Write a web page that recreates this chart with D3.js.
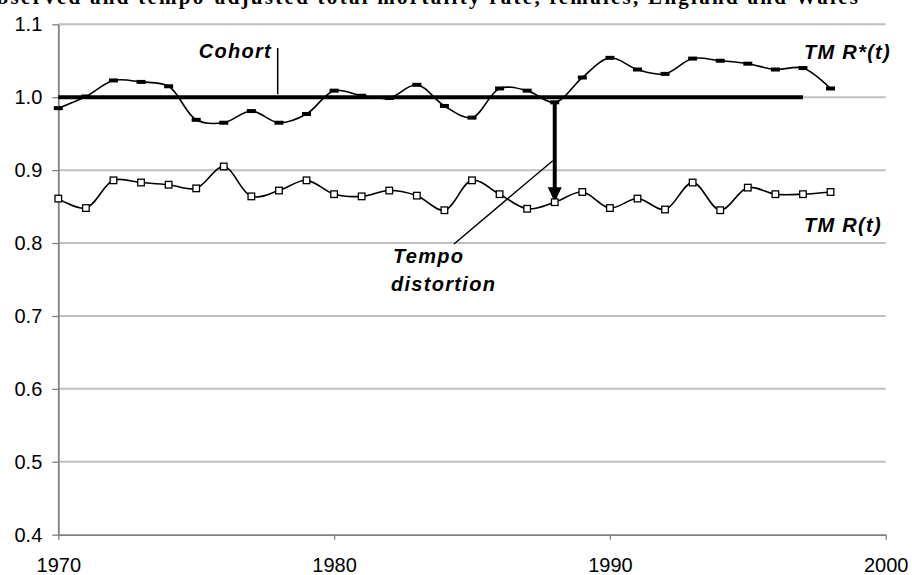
<!DOCTYPE html>
<html>
<head>
<meta charset="utf-8">
<script src="https://cdn.jsdelivr.net/npm/d3@7"></script>
<style>
  body { margin: 0; background: #fff; }
  text { font-family: "Liberation Sans", Arial, sans-serif; }
  .lab { font-weight: bold; font-style: italic; font-size: 20px; letter-spacing: 1.3px; }
</style>
</head>
<body>
<svg id="chart"></svg>
<script>
var years = d3.range(1970, 1999);
var tmrStar = [0.985, 1.001, 1.023, 1.021, 1.015, 0.969, 0.965, 0.981, 0.965, 0.977,
               1.009, 1.002, 0.999, 1.017, 0.988, 0.972, 1.012, 1.009, 0.993, 1.027,
               1.054, 1.038, 1.032, 1.053, 1.050, 1.046, 1.038, 1.040, 1.012];
var tmr = [0.861, 0.848, 0.886, 0.883, 0.880, 0.875, 0.905, 0.864, 0.872, 0.886,
           0.867, 0.864, 0.872, 0.865, 0.845, 0.886, 0.867, 0.847, 0.856, 0.870,
           0.848, 0.861, 0.846, 0.883, 0.845, 0.876, 0.867, 0.867, 0.870];
var cohortLevel = 1.0, cohortYears = [1970, 1997];
var arrowYear = 1988;
var yTicks = [0.4, 0.5, 0.6, 0.7, 0.8, 0.9, 1.0, 1.1];
var xTicks = [1970, 1980, 1990, 2000];
var title = "Observed and tempo-adjusted total mortality rate, females, England and Wales";

var width = 912, height = 575;
var svg = d3.select("#chart").attr("width", width).attr("height", height);

var x = d3.scaleLinear().domain([1970, 2000]).range([58.3, 885.7]);
var y = d3.scaleLinear().domain([0.4, 1.1]).range([534.7, 24.3]);

// title, cut at the top edge as in the source
svg.append("text")
    .attr("x", -22).attr("y", 4)
    .attr("textLength", 880).attr("lengthAdjust", "spacing")
    .style("font-family", "'Liberation Serif', serif")
    .style("font-weight", "bold").style("font-size", "21px")
    .text(title);

// gridlines
svg.append("g").selectAll("line")
    .data(yTicks.filter(function(d) { return d > 0.4; }))
    .enter().append("line")
    .attr("x1", x(1970)).attr("x2", x(2000))
    .attr("y1", function(d) { return y(d); }).attr("y2", function(d) { return y(d); })
    .attr("stroke", "#c0c0c0").attr("stroke-width", 2);

// axes
var yAxis = d3.axisLeft(y).tickValues(yTicks).tickFormat(d3.format(".1f"))
    .tickSizeInner(6).tickSizeOuter(0).tickPadding(10);
var xAxis = d3.axisBottom(x).tickValues(xTicks).tickFormat(d3.format("d"))
    .tickSizeInner(5).tickSizeOuter(0).tickPadding(18);

var gy = svg.append("g").attr("transform", "translate(" + x(1970) + ",0)").call(yAxis);
var gx = svg.append("g").attr("transform", "translate(0," + y(0.4) + ")").call(xAxis);
[gx, gy].forEach(function(g) {
  g.select(".domain").attr("stroke", "#808080").attr("stroke-width", 1.8);
  g.selectAll(".tick line").attr("stroke", "#808080").attr("stroke-width", 1.3);
  g.selectAll(".tick text").attr("fill", "#000").style("font-size", "20px")
    .style("font-family", "'Liberation Sans', Arial, sans-serif");
});

// cohort level line
svg.append("line")
    .attr("x1", x(cohortYears[0])).attr("x2", x(cohortYears[1]))
    .attr("y1", y(cohortLevel)).attr("y2", y(cohortLevel))
    .attr("stroke", "#000").attr("stroke-width", 4);

var line = d3.line().curve(d3.curveCatmullRom.alpha(0.5))
    .x(function(d) { return x(d[0]); }).y(function(d) { return y(d[1]); });

var starPts = years.map(function(yr, i) { return [yr, tmrStar[i]]; });
var tmrPts = years.map(function(yr, i) { return [yr, tmr[i]]; });

svg.append("path").datum(starPts).attr("d", line)
    .attr("fill", "none").attr("stroke", "#000").attr("stroke-width", 1.6);
svg.append("path").datum(tmrPts).attr("d", line)
    .attr("fill", "none").attr("stroke", "#000").attr("stroke-width", 1.6);

// tempo distortion arrow
var ai = years.indexOf(arrowYear);
var ax = x(arrowYear), ayTop = y(tmrStar[ai]), ayTip = y(tmr[ai]);
svg.append("line")
    .attr("x1", ax).attr("x2", ax).attr("y1", ayTop).attr("y2", ayTip - 14)
    .attr("stroke", "#000").attr("stroke-width", 4);
svg.append("path")
    .attr("d", "M" + (ax - 7) + "," + (ayTip - 15) + "L" + (ax + 7) + "," + (ayTip - 15) + "L" + ax + "," + ayTip + "Z")
    .attr("fill", "#000");

// markers
svg.append("g").selectAll("rect").data(starPts).enter().append("rect")
    .attr("x", function(d) { return x(d[0]) - 4.5; })
    .attr("y", function(d) { return y(d[1]) - 2; })
    .attr("width", 9).attr("height", 4).attr("fill", "#000");
svg.append("g").selectAll("rect").data(tmrPts).enter().append("rect")
    .attr("x", function(d) { return x(d[0]) - 3.3; })
    .attr("y", function(d) { return y(d[1]) - 3.3; })
    .attr("width", 6.6).attr("height", 6.6)
    .attr("fill", "#fff").attr("stroke", "#000").attr("stroke-width", 1.3);

// annotations
svg.append("line").attr("x1", 277.7).attr("x2", 277.7).attr("y1", 48).attr("y2", y(cohortLevel) - 3)
    .attr("stroke", "#000").attr("stroke-width", 1.5);
svg.append("text").attr("class", "lab").attr("x", 272).attr("y", 58)
    .attr("text-anchor", "end").text("Cohort");

svg.append("text").attr("class", "lab").attr("x", 804).attr("y", 59).text("TM R*(t)");
svg.append("text").attr("class", "lab").attr("x", 804).attr("y", 232).text("TM R(t)");

svg.append("line").attr("x1", ax - 2).attr("y1", 160.7).attr("x2", 454).attr("y2", 244)
    .attr("stroke", "#000").attr("stroke-width", 1.4);
svg.append("text").attr("class", "lab").attr("x", 393).attr("y", 263).text("Tempo");
svg.append("text").attr("class", "lab").attr("x", 391).attr("y", 291).text("distortion");
</script>
</body>
</html>
